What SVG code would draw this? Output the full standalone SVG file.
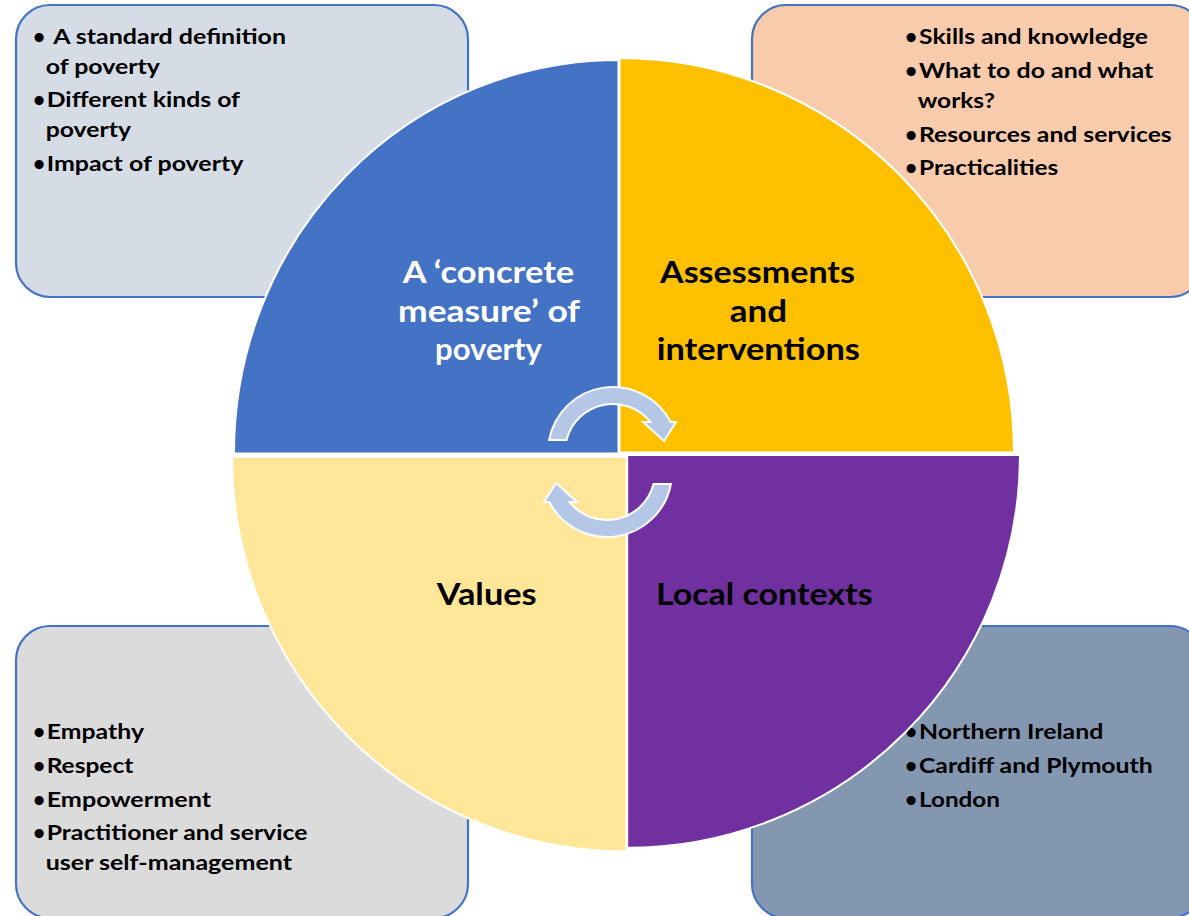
<svg xmlns="http://www.w3.org/2000/svg" width="1189" height="916" viewBox="0 0 1189 916">
<style>
.box{stroke:#4472C4;stroke-width:2.2}
.q{stroke:#FFFFFF;stroke-width:2}
.t{font-family:Lato,"Liberation Sans",sans-serif;font-weight:bold;font-size:21px;fill:#000}
.h{font-family:Lato,"Liberation Sans",sans-serif;font-weight:bold;font-size:30px;text-anchor:middle}
.arr{fill:#B4C7E7;stroke:#FFFFFF;stroke-width:2;stroke-linejoin:miter}
</style>
<defs>
<path id="carrow" d="M 549.1 440 A 65 65 0 0 1 670.7 422 L 676 422 L 664 441 L 643 422 L 650.5 422 A 48 48 0 0 0 566.5 440 Z"/>
</defs>
<rect width="1189" height="916" fill="#FFFFFF"/>
<g id="box-top-left">
<rect class="box" x="16" y="5" width="452" height="292" rx="34" fill="#D6DCE5"/>
<text class="t" x="33" y="43.5">•</text>
<text class="t" x="53.3" y="43.5" textLength="232.7" lengthAdjust="spacingAndGlyphs">A standard definition</text>
<text class="t" x="45.7" y="74" textLength="114.3" lengthAdjust="spacingAndGlyphs">of poverty</text>
<text class="t" x="33" y="107">•</text>
<text class="t" x="46.7" y="107" textLength="193.3" lengthAdjust="spacingAndGlyphs">Different kinds of</text>
<text class="t" x="45.7" y="137" textLength="85.3" lengthAdjust="spacingAndGlyphs">poverty</text>
<text class="t" x="33" y="170.5">•</text>
<text class="t" x="46.7" y="170.5" textLength="196.7" lengthAdjust="spacingAndGlyphs">Impact of poverty</text>
</g>
<g id="box-top-right">
<rect class="box" x="752" y="5" width="452" height="292" rx="34" fill="#F8CBAD"/>
<text class="t" x="905" y="43.5">•</text>
<text class="t" x="919" y="43.5" textLength="229" lengthAdjust="spacingAndGlyphs">Skills and knowledge</text>
<text class="t" x="905" y="77.5">•</text>
<text class="t" x="919" y="77.5" textLength="234.3" lengthAdjust="spacingAndGlyphs">What to do and what</text>
<text class="t" x="917.7" y="107.5" textLength="77.3" lengthAdjust="spacingAndGlyphs">works?</text>
<text class="t" x="905" y="141.5">•</text>
<text class="t" x="919" y="141.5" textLength="252.7" lengthAdjust="spacingAndGlyphs">Resources and services</text>
<text class="t" x="905" y="175">•</text>
<text class="t" x="919" y="175" textLength="139.3" lengthAdjust="spacingAndGlyphs">Practicalities</text>
</g>
<g id="box-bottom-left">
<rect class="box" x="16" y="626" width="452" height="292" rx="34" fill="#DBDBDB"/>
<text class="t" x="33" y="738.5">•</text>
<text class="t" x="46.7" y="738.5" textLength="97.3" lengthAdjust="spacingAndGlyphs">Empathy</text>
<text class="t" x="33" y="772.5">•</text>
<text class="t" x="46.7" y="772.5" textLength="86.7" lengthAdjust="spacingAndGlyphs">Respect</text>
<text class="t" x="33" y="806.5">•</text>
<text class="t" x="46.7" y="806.5" textLength="164.3" lengthAdjust="spacingAndGlyphs">Empowerment</text>
<text class="t" x="33" y="840">•</text>
<text class="t" x="46.7" y="840" textLength="260.7" lengthAdjust="spacingAndGlyphs">Practitioner and service</text>
<text class="t" x="45.7" y="869.5" textLength="246.3" lengthAdjust="spacingAndGlyphs">user self-management</text>
</g>
<g id="box-bottom-right">
<rect class="box" x="752" y="626" width="452" height="292" rx="34" fill="#8497B0"/>
<text class="t" x="905" y="738.5">•</text>
<text class="t" x="919" y="738.5" textLength="184.3" lengthAdjust="spacingAndGlyphs">Northern Ireland</text>
<text class="t" x="905" y="772.5">•</text>
<text class="t" x="919" y="772.5" textLength="233.7" lengthAdjust="spacingAndGlyphs">Cardiff and Plymouth</text>
<text class="t" x="905" y="806.5">•</text>
<text class="t" x="919" y="806.5" textLength="81" lengthAdjust="spacingAndGlyphs">London</text>
</g>
<g id="quadrant-measure">
<path class="q" fill="#4472C4" d="M 618.5 453.5 L 234 453.5 A 384.5 393 0 0 1 618.5 60 Z"/>
<text class="h" fill="#FFFFFF" x="488.5" y="283" textLength="171.6" lengthAdjust="spacingAndGlyphs">A ‘concrete</text>
<text class="h" fill="#FFFFFF" x="489" y="321.5" textLength="182" lengthAdjust="spacingAndGlyphs">measure’ of</text>
<text class="h" fill="#FFFFFF" x="488.5" y="360" textLength="107" lengthAdjust="spacingAndGlyphs">poverty</text>
</g>
<g id="quadrant-assessments">
<path class="q" fill="#FFC000" d="M 619.5 452.5 L 619.5 58 A 394.5 394.5 0 0 1 1014 452.5 Z"/>
<text class="h" fill="#000000" x="757.5" y="283" textLength="195" lengthAdjust="spacingAndGlyphs">Assessments</text>
<text class="h" fill="#000000" x="758.5" y="321.5" textLength="57.3" lengthAdjust="spacingAndGlyphs">and</text>
<text class="h" fill="#000000" x="758.3" y="360" textLength="203.3" lengthAdjust="spacingAndGlyphs">interventions</text>
</g>
<g id="quadrant-values">
<path class="q" fill="#FFE699" d="M 626.5 457 L 626.5 851.5 A 394.5 394.5 0 0 1 232 457 Z"/>
<text class="h" fill="#000000" x="486.7" y="605" textLength="100" lengthAdjust="spacingAndGlyphs">Values</text>
</g>
<g id="quadrant-local">
<path class="q" fill="#7030A0" d="M 627.2 455 L 1020 455 A 392.8 392.8 0 0 1 627.2 847.8 Z"/>
<text class="h" fill="#000000" x="764.3" y="605" textLength="216.7" lengthAdjust="spacingAndGlyphs">Local contexts</text>
</g>
<g id="connectors">
<use href="#carrow" class="arr"/>
<use href="#carrow" class="arr" transform="rotate(180 610 462)"/>
</g>
</svg>
